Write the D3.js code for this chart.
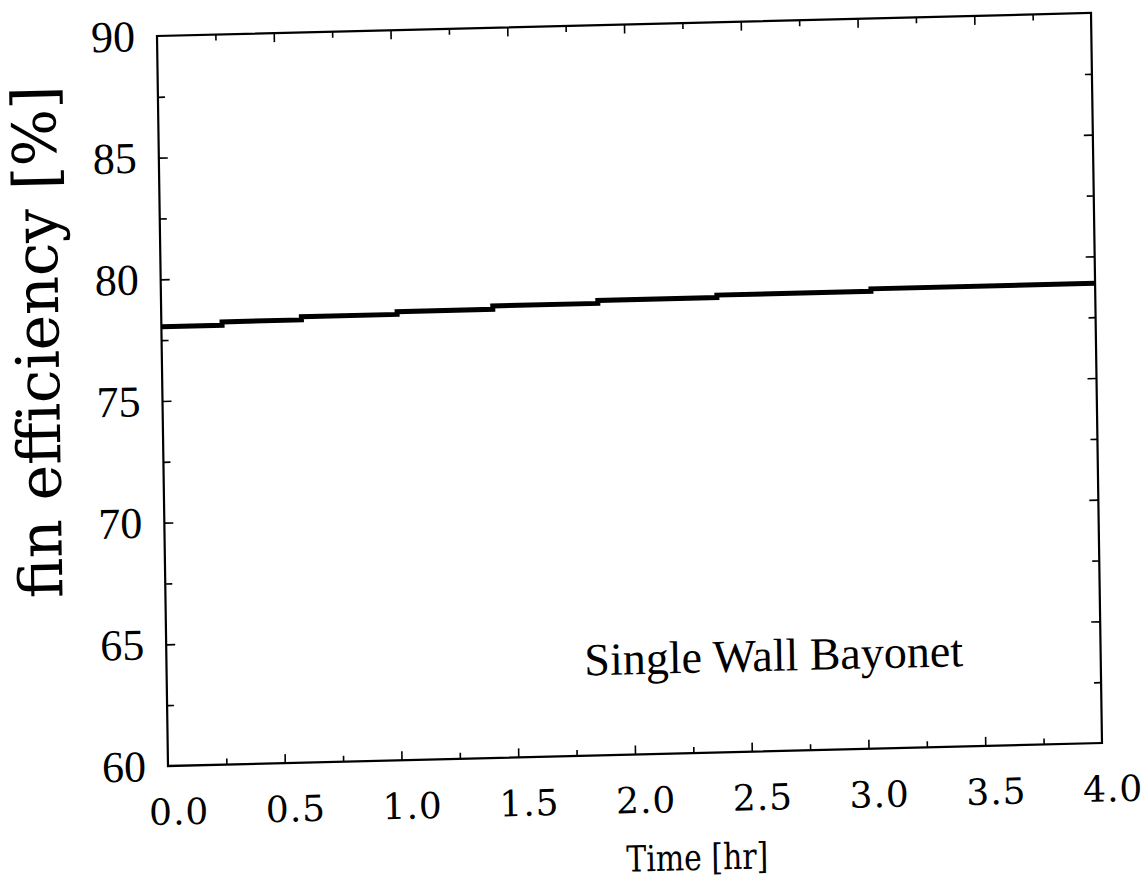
<!DOCTYPE html>
<html>
<head>
<meta charset="utf-8">
<script src="https://cdn.jsdelivr.net/npm/d3@7"></script>
<style>
  html, body { margin: 0; padding: 0; background: #fff; }
  svg { display: block; }
</style>
</head>
<body>
<svg id="chart" width="1148" height="886"></svg>
<script>
// ---- data ----
const timeHr = [0, 0.26, 0.60, 1.01, 1.42, 1.87, 2.38, 3.04, 4.0];
const finEfficiency = [78.05, 78.19, 78.32, 78.43, 78.57, 78.69, 78.79, 78.89, 78.89];
const xMajorTicks = [0, 0.5, 1.0, 1.5, 2.0, 2.5, 3.0, 3.5, 4.0];
const xMinorTicks = [0.25, 0.75, 1.25, 1.75, 2.25, 2.75, 3.25, 3.75];
const yMajorTicks = [60, 65, 70, 75, 80, 85, 90];
const yMinorTicks = [62.5, 67.5, 72.5, 77.5, 82.5, 87.5];
const xLabel = "Time [hr]";
const yLabel = "fin efficiency [%]";
const annotation = "Single Wall Bayonet";

// ---- layout ----
const W = 934, H = 730;
const svg = d3.select("#chart");
// the scanned figure is slightly skewed
const g = svg.append("g")
  .attr("transform", "matrix(1,-0.02463,0.01507,1,157,36)");

const x = d3.scaleLinear().domain([0, 4]).range([0, W]);
const y = d3.scaleLinear().domain([60, 90]).range([H, 0]);

const tickStroke = 1.6;

function styleAxis(sel) {
  sel.select(".domain").remove();
  sel.selectAll(".tick line").attr("stroke", "#000").attr("stroke-width", tickStroke);
}

// bottom axis (major with labels)
const xb = g.append("g").attr("transform", `translate(0,${H})`)
  .call(d3.axisBottom(x).tickValues(xMajorTicks).tickSize(-9).tickPadding(33)
    .tickFormat(d3.format(".1f")));
styleAxis(xb);
xb.selectAll("text")
  .attr("font-family", "DejaVu Serif")
  .attr("font-size", 36)
  .attr("letter-spacing", 1)
  .attr("dx", 10)
  .attr("fill", "#000");
xb.selectAll(".tick").filter(d => d === 4 || d === 0).select("line").remove();

const xbm = g.append("g").attr("transform", `translate(0,${H})`)
  .call(d3.axisBottom(x).tickValues(xMinorTicks).tickSize(-6).tickFormat(""));
styleAxis(xbm);

// top axis
const xt = g.append("g")
  .call(d3.axisTop(x).tickValues(xMajorTicks.filter(d => d > 0 && d < 4)).tickSize(-9).tickFormat(""));
styleAxis(xt);
const xtm = g.append("g")
  .call(d3.axisTop(x).tickValues(xMinorTicks).tickSize(-6).tickFormat(""));
styleAxis(xtm);

// left axis
const yl = g.append("g")
  .call(d3.axisLeft(y).tickValues(yMajorTicks).tickSize(-9).tickPadding(22));
styleAxis(yl);
yl.selectAll("text")
  .attr("font-family", "Liberation Serif")
  .attr("font-size", 44)
  .attr("fill", "#000");
yl.selectAll(".tick").filter(d => d === 60 || d === 90).select("line").remove();
const ylm = g.append("g")
  .call(d3.axisLeft(y).tickValues(yMinorTicks).tickSize(-7).tickFormat(""));
styleAxis(ylm);

// right axis
const yr = g.append("g").attr("transform", `translate(${W},0)`)
  .call(d3.axisRight(y).tickValues(yMajorTicks.filter(d => d > 60 && d < 90)).tickSize(-9).tickFormat(""));
styleAxis(yr);
const yrm = g.append("g").attr("transform", `translate(${W},0)`)
  .call(d3.axisRight(y).tickValues(yMinorTicks).tickSize(-7).tickFormat(""));
styleAxis(yrm);

// frame
g.append("rect")
  .attr("x", 0).attr("y", 0).attr("width", W).attr("height", H)
  .attr("fill", "none").attr("stroke", "#000").attr("stroke-width", 2.2);

// data line
const pts = timeHr.map((t, i) => [t, finEfficiency[i]]);
g.append("path")
  .datum(pts)
  .attr("fill", "none")
  .attr("stroke", "#000")
  .attr("stroke-width", 5)
  .attr("d", d3.line().x(d => x(d[0])).y(d => y(d[1])).curve(d3.curveStepAfter));

// annotation
g.append("text")
  .attr("x", x(2.6)).attr("y", y(63.3))
  .attr("text-anchor", "middle")
  .attr("font-family", "Liberation Serif")
  .attr("font-size", 46)
  .attr("fill", "#000")
  .text(annotation);

// axis titles
g.append("text")
  .attr("x", x(2.26)).attr("y", H + 117)
  .attr("text-anchor", "middle")
  .attr("font-family", "DejaVu Serif")
  .attr("font-size", 36)
  .attr("textLength", 142)
  .attr("lengthAdjust", "spacingAndGlyphs")
  .attr("fill", "#000")
  .text(xLabel);

g.append("text")
  .attr("transform", `translate(-103,${H / 2 - 62}) rotate(-90)`)
  .attr("text-anchor", "middle")
  .attr("font-family", "DejaVu Serif")
  .attr("font-size", 60)
  .attr("fill", "#000")
  .text(yLabel);
</script>
</body>
</html>
